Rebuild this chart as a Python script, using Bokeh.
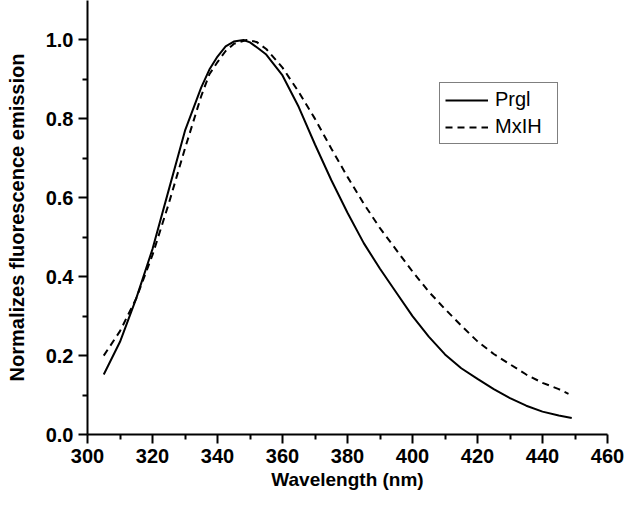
from bokeh.plotting import figure
from bokeh.models import FixedTicker, PrintfTickFormatter, Range1d, Legend, LegendItem
from bokeh.embed import file_html
from bokeh.resources import INLINE

# Data
wl_prgl = [305, 310, 315, 320, 325, 330, 335, 337.5, 340, 342.5, 345, 348, 350, 352.5, 355,
           360, 365, 370, 375, 380, 385, 390, 395, 400, 405, 410, 415, 420, 425, 430, 435,
           440, 445, 449]
prgl = [0.152, 0.235, 0.345, 0.47, 0.62, 0.77, 0.88, 0.925, 0.958, 0.984, 0.996, 1.0,
        0.994, 0.979, 0.963, 0.91, 0.83, 0.735, 0.645, 0.562, 0.485, 0.42, 0.36, 0.30,
        0.248, 0.203, 0.168, 0.141, 0.115, 0.092, 0.073, 0.058, 0.048, 0.042]

wl_mxih = [305, 310, 315, 320, 325, 330, 335, 337.5, 340, 342.5, 345, 349, 352, 355,
           360, 365, 370, 375, 380, 385, 390, 395, 400, 405, 410, 415, 420, 425, 430, 435,
           440, 445, 448]
mxih = [0.20, 0.262, 0.345, 0.455, 0.585, 0.725, 0.858, 0.913, 0.944, 0.972, 0.99, 1.0,
        0.995, 0.977, 0.93, 0.868, 0.80, 0.725, 0.653, 0.585, 0.523, 0.468, 0.413, 0.362,
        0.318, 0.276, 0.236, 0.204, 0.178, 0.152, 0.131, 0.115, 0.103]

x_ticks = [300, 320, 340, 360, 380, 400, 420, 440, 460]
x_minor = [310, 330, 350, 370, 390, 410, 430, 450]
y_ticks = [0.0, 0.2, 0.4, 0.6, 0.8, 1.0]
y_minor = [0.1, 0.3, 0.5, 0.7, 0.9]

FONT = "Liberation Sans"

p = figure(width=624, height=492, output_backend="svg", toolbar_location=None,
           x_range=Range1d(300, 460), y_range=Range1d(0, 1.10),
           min_border_left=87, min_border_right=17, min_border_top=0, min_border_bottom=58)
p.outline_line_color = None
p.grid.visible = False
p.background_fill_color = "white"
p.border_fill_color = "white"

r1 = p.line(wl_prgl, prgl, line_color="black", line_width=2)
r2 = p.line(wl_mxih, mxih, line_color="black", line_width=2, line_dash="7 5")

for ax in (p.xaxis[0], p.yaxis[0]):
    ax.axis_line_width = 2
    ax.axis_line_color = "black"
    ax.major_tick_line_width = 2
    ax.major_tick_line_color = "black"
    ax.minor_tick_line_width = 2
    ax.minor_tick_line_color = "black"
    ax.major_tick_out = 9
    ax.major_tick_in = 0
    ax.minor_tick_out = 5
    ax.minor_tick_in = 0
    ax.major_label_text_font = FONT
    ax.major_label_text_font_style = "bold"
    ax.major_label_text_font_size = "20px"
    ax.major_label_text_color = "black"
    ax.axis_label_text_font = FONT
    ax.axis_label_text_font_style = "bold"
    ax.axis_label_text_color = "black"

p.xaxis.axis_label_text_font_size = "19px"
p.yaxis.axis_label_text_font_size = "20px"
p.xaxis.ticker = FixedTicker(ticks=x_ticks, minor_ticks=x_minor)
p.yaxis.ticker = FixedTicker(ticks=y_ticks, minor_ticks=y_minor)
p.yaxis.formatter = PrintfTickFormatter(format="%.1f")
p.xaxis.major_label_standoff = 5
p.yaxis.major_label_standoff = 5
p.xaxis.axis_label = "Wavelength (nm)"
p.yaxis.axis_label = "Normalizes fluorescence emission"
p.xaxis.axis_label_standoff = 3
p.yaxis.axis_label_standoff = 15

legend = Legend(items=[LegendItem(label="Prgl", renderers=[r1]),
                       LegendItem(label="MxIH", renderers=[r2])],
                location=(352, 290))
legend.border_line_color = "black"
legend.border_line_width = 1.5
legend.label_text_font = FONT
legend.label_text_font_size = "20px"
legend.label_text_color = "black"
legend.glyph_width = 43
legend.glyph_height = 20
legend.label_height = 20
legend.label_width = 57
legend.label_standoff = 7
legend.padding = 5
legend.spacing = 4
legend.margin = 0
legend.background_fill_alpha = 1
p.add_layout(legend, "center")

open("out.html", "w").write(file_html(p, INLINE))
